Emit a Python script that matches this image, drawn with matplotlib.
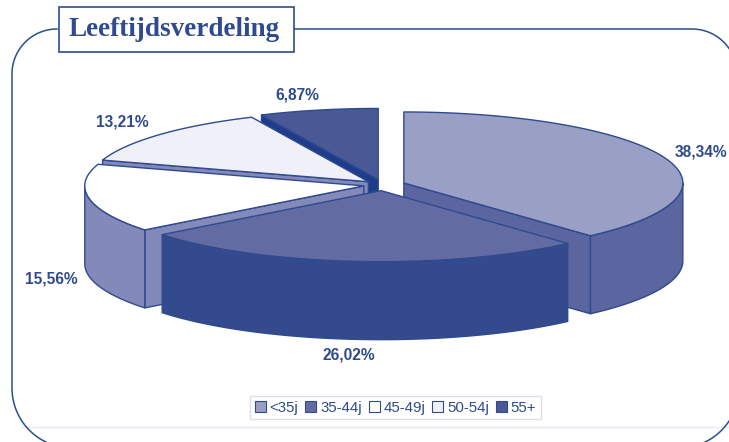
import numpy as np
import matplotlib
matplotlib.use("Agg")
import matplotlib.pyplot as plt
from matplotlib.patches import Patch, Polygon, Rectangle

categories = ["<35j", "35-44j", "45-49j", "50-54j", "55+"]
shares = [38.34, 26.02, 15.56, 13.21, 6.87]
share_labels = ["38,34%", "26,02%", "15,56%", "13,21%", "6,87%"]
top_colors = ["#9a9fc5", "#626ca3", "#ffffff", "#f0f1f8", "#4a5896"]
wall_colors = ["#5b659f", "#334a8c", "#8389b8", "#8389b8", "#1e3c8a"]
explode = [0.08, 0.08, 0.07, 0.07, 0.08]
label_pos = [(701, 152), (349, 355), (51, 279), (122, 122), (297, 95)]

INK = "#2f4a8f"
FRAME = "#27508f"
CX, CY = 383, 185
RX, RY = 279, 71
DEPTH = 78

fig = plt.figure(figsize=(7.29, 4.42), dpi=100)
ax = fig.add_axes([0, 0, 1, 1])
ax.set_xlim(0, 729)
ax.set_ylim(442, 0)
ax.axis("off")

# angles run clockwise from 12 o'clock, as in the original chart
ends = np.cumsum(shares) / 100 * 2 * np.pi
starts = np.r_[0, ends[:-1]]


def rim(x0, y0, a, b):
    t = np.linspace(a, b, 120)
    return np.c_[x0 + RX * np.sin(t), y0 - RY * np.cos(t)]


def draw_slice(i):
    a, b = starts[i], ends[i]
    mid = (a + b) / 2
    x0 = CX + explode[i] * RX * np.sin(mid)
    y0 = CY - explode[i] * RY * np.cos(mid)
    down = np.array([0, DEPTH])
    apex = np.array([x0, y0])
    style = dict(edgecolor=INK, linewidth=1.0, joinstyle="round")
    arc = rim(x0, y0, a, b)
    # cut faces, only those turned to the viewer
    if np.sin(a) < -1e-6:
        ax.add_patch(Polygon([apex, arc[0], arc[0] + down, apex + down],
                             facecolor=wall_colors[i], **style))
    if np.sin(b) > 1e-6:
        ax.add_patch(Polygon([apex, arc[-1], arc[-1] + down, apex + down],
                             facecolor=wall_colors[i], **style))
    # outer wall
    lo, hi = max(a, np.pi / 2), min(b, 3 * np.pi / 2)
    if lo < hi:
        front = rim(x0, y0, lo, hi)
        ax.add_patch(Polygon(np.r_[front, (front + down)[::-1]],
                             facecolor=wall_colors[i], **style))
    ax.add_patch(Polygon(np.r_[[apex], arc], facecolor=top_colors[i], **style))


for i in [4, 3, 2, 0, 1]:
    draw_slice(i)

for text, (x, y) in zip(share_labels, label_pos):
    ax.text(x, y, text, ha="center", va="center", fontsize=11.2, fontweight="bold",
            family="Liberation Sans", color=INK)


def corner(xc, yc, r, a, b):
    t = np.radians(np.linspace(a, b, 60))
    return np.c_[xc + r * np.cos(t), yc + r * np.sin(t)]


# frame, its right and bottom sides run off the picture
left = np.r_[corner(57, 74, 45, 270, 180), corner(72, 388, 60, 180, 90)]
right = np.r_[[[294, 29]], corner(692, 74, 45, 270, 360)]
bottom = corner(679, 388, 60, 90, 0)
ax.plot([22, 729], [427, 427], color="#e8e9f3", linewidth=1.0)
for part in (left, right, bottom):
    ax.plot(part[:, 0], part[:, 1], color=FRAME, linewidth=1.1)

ax.add_patch(Rectangle((59, 7), 235, 45, facecolor="white", edgecolor=INK, linewidth=1.2, zorder=3))
ax.text(174, 29, "Leeftijdsverdeling", ha="center", va="center", fontsize=19.5,
        fontweight="bold", family="Liberation Serif", color=INK, zorder=4)

handles = [Patch(facecolor=c, edgecolor=INK, linewidth=0.8) for c in top_colors]
leg = ax.legend(handles, categories, ncol=5, loc="center", bbox_to_anchor=(0.5425, 0.078),
                frameon=True, fancybox=False, edgecolor="#dcdeec", handlelength=0.75,
                handleheight=0.75, handletextpad=0.25, columnspacing=0.45, borderpad=0.3,
                borderaxespad=0, prop=dict(family="Liberation Sans", size=10.8))
leg.get_frame().set_alpha(1)
for t in leg.get_texts():
    t.set_color(INK)

fig.savefig("out.png", dpi=100)
